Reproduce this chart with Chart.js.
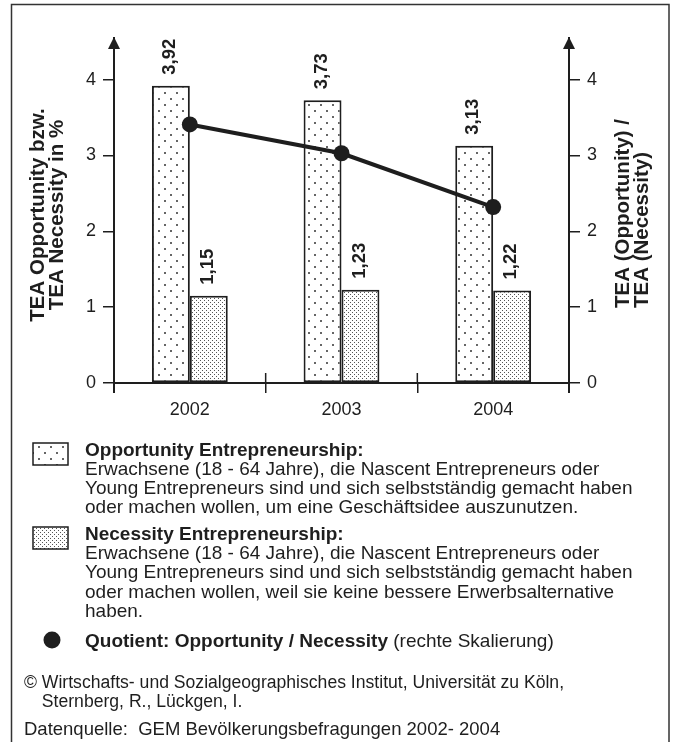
<!DOCTYPE html>
<html>
<head>
<meta charset="utf-8">
<script src="https://cdn.jsdelivr.net/npm/chart.js@4.4.0/dist/chart.umd.min.js"></script>
<style>
  html, body { margin: 0; padding: 0; background: #fff; }
  canvas { display: block; }
</style>
</head>
<body>
<canvas id="chart" width="675" height="742"></canvas>
<script>
// Daten
const years = ['2002', '2003', '2004'];
const opportunity = [3.92, 3.73, 3.13];
const necessity = [1.15, 1.23, 1.22];
const quotient = [3.41, 3.03, 2.32];
const yTicks = [0, 1, 2, 3, 4];

const FONT = "'Liberation Sans', Arial, sans-serif";
const INK = '#1e1e1e';

const leftTitle = ['TEA Opportunity bzw.', 'TEA Necessity in %'];
const rightTitle = ['TEA (Opportunity) /', 'TEA (Necessity)'];

const oppText = [
  'Erwachsene (18 - 64 Jahre), die Nascent Entrepreneurs oder',
  'Young Entrepreneurs sind und sich selbstständig gemacht haben',
  'oder machen wollen, um eine Geschäftsidee auszunutzen.'
];
const necText = [
  'Erwachsene (18 - 64 Jahre), die Nascent Entrepreneurs oder',
  'Young Entrepreneurs sind und sich selbstständig gemacht haben',
  'oder machen wollen, weil sie keine bessere Erwerbsalternative',
  'haben.'
];

const canvas = document.getElementById('chart');
const ctx = canvas.getContext('2d');

// Punktraster für die Balken
function makePattern(size, dots, color, dot) {
  const c = document.createElement('canvas');
  c.width = size;
  c.height = size;
  const g = c.getContext('2d');
  g.fillStyle = '#fff';
  g.fillRect(0, 0, size, size);
  g.fillStyle = color;
  dots.forEach(([px, py]) => g.fillRect(px, py, dot, dot));
  return ctx.createPattern(c, 'repeat');
}
const oppPattern = makePattern(12, [[2, 2], [8, 8]], '#666', 2);
const necPattern = makePattern(4, [[0, 0], [2, 2]], '#555', 1);

const fmt = v => v.toFixed(2).replace('.', ',');

const decor = {
  id: 'decor',
  afterDraw(chart) {
    const { ctx, chartArea: a, scales: { x } } = chart;
    ctx.save();
    ctx.strokeStyle = INK;
    ctx.fillStyle = INK;

    // Rahmen
    ctx.lineWidth = 1.5;
    ctx.strokeStyle = '#333';
    ctx.strokeRect(11.5, 4.5, 657.5, 760);
    ctx.strokeStyle = INK;

    // Pfeile an den Achsen
    [a.left, a.right].forEach(px => {
      ctx.lineWidth = 2;
      ctx.beginPath();
      ctx.moveTo(px, a.top);
      ctx.lineTo(px, a.bottom + 10);
      ctx.stroke();
      ctx.beginPath();
      ctx.moveTo(px, 37);
      ctx.lineTo(px - 6, 49);
      ctx.lineTo(px + 6, 49);
      ctx.closePath();
      ctx.fill();
    });

    // kurze Striche nach oben zwischen den Kategorien
    ctx.lineWidth = 1.5;
    for (let i = 0; i < years.length - 1; i++) {
      const bx = (x.getPixelForValue(i) + x.getPixelForValue(i + 1)) / 2;
      ctx.beginPath();
      ctx.moveTo(bx, a.bottom - 10);
      ctx.lineTo(bx, a.bottom);
      ctx.stroke();
    }

    // Werte über den Balken
    ctx.font = 'bold 18.5px ' + FONT;
    ctx.textAlign = 'left';
    ctx.textBaseline = 'middle';
    chart.data.datasets.forEach((ds, di) => {
      if (ds.type !== 'bar') return;
      chart.getDatasetMeta(di).data.forEach((bar, i) => {
        ctx.save();
        ctx.translate(bar.x - 1, bar.y - 11);
        ctx.rotate(-Math.PI / 2);
        ctx.fillText(fmt(ds.data[i]), 0, 0);
        ctx.restore();
      });
    });

    // Achsentitel
    ctx.font = 'bold 20.5px ' + FONT;
    ctx.save();
    ctx.translate(38, 215);
    ctx.rotate(-Math.PI / 2);
    ctx.textAlign = 'center';
    leftTitle.forEach((t, i) => ctx.fillText(t, 0, i * 19));
    ctx.restore();

    ctx.save();
    ctx.translate(623, 308);
    ctx.rotate(-Math.PI / 2);
    ctx.textAlign = 'left';
    rightTitle.forEach((t, i) => ctx.fillText(t, 0, i * 19));
    ctx.restore();

    // Legende
    ctx.lineWidth = 1.5;
    ctx.fillStyle = oppPattern;
    ctx.fillRect(33, 443, 35, 22);
    ctx.strokeRect(33, 443, 35, 22);
    ctx.fillStyle = necPattern;
    ctx.fillRect(33, 527, 35, 22);
    ctx.strokeRect(33, 527, 35, 22);
    ctx.fillStyle = INK;

    ctx.textBaseline = 'alphabetic';
    const tx = 85;
    ctx.font = 'bold 19px ' + FONT;
    ctx.fillText('Opportunity Entrepreneurship:', tx, 456);
    ctx.font = '19px ' + FONT;
    oppText.forEach((t, i) => ctx.fillText(t, tx, 474.5 + i * 19.2));

    ctx.font = 'bold 19px ' + FONT;
    ctx.fillText('Necessity Entrepreneurship:', tx, 540);
    ctx.font = '19px ' + FONT;
    necText.forEach((t, i) => ctx.fillText(t, tx, 559 + i * 19.3));

    ctx.beginPath();
    ctx.arc(52, 640, 8.5, 0, Math.PI * 2);
    ctx.fill();
    ctx.font = 'bold 19px ' + FONT;
    const q = 'Quotient: Opportunity / Necessity';
    ctx.fillText(q, tx, 647);
    const qw = ctx.measureText(q).width;
    ctx.font = '19px ' + FONT;
    ctx.fillText(' (rechte Skalierung)', tx + qw, 647);

    // Quelle
    ctx.font = '17.6px ' + FONT;
    ctx.fillText('© Wirtschafts- und Sozialgeographisches Institut, Universität zu Köln,', 24, 688);
    const indent = ctx.measureText('© ').width;
    ctx.fillText('Sternberg, R., Lückgen, I.', 24 + indent, 707);
    ctx.font = '18.5px ' + FONT;
    ctx.fillText('Datenquelle:  GEM Bevölkerungsbefragungen 2002- 2004', 24, 734.5);
    ctx.restore();
  }
};

const yAxis = (pos, width) => ({
  position: pos,
  min: 0,
  max: 4.55,
  afterBuildTicks: s => { s.ticks = yTicks.map(v => ({ value: v })); },
  ticks: { padding: 7, color: INK, font: { size: 18, family: FONT } },
  grid: { drawOnChartArea: false, tickLength: 11, color: INK, lineWidth: 1.5 },
  border: { display: true, color: INK, width: 2 },
  afterFit: s => { s.width = width; }
});

new Chart(ctx, {
  type: 'bar',
  data: {
    labels: years,
    datasets: [
      {
        type: 'line',
        label: 'Quotient',
        data: quotient,
        yAxisID: 'y2',
        borderColor: INK,
        borderWidth: 4,
        pointRadius: 8,
        pointBackgroundColor: INK,
        pointBorderWidth: 0,
        tension: 0,
        order: 0
      },
      {
        type: 'bar',
        label: 'Opportunity',
        data: opportunity,
        yAxisID: 'y',
        backgroundColor: oppPattern,
        borderColor: INK,
        borderWidth: 2,
        borderSkipped: false,
        categoryPercentage: 0.5,
        barPercentage: 1,
        order: 1
      },
      {
        type: 'bar',
        label: 'Necessity',
        data: necessity,
        yAxisID: 'y',
        backgroundColor: necPattern,
        borderColor: INK,
        borderWidth: 2,
        borderSkipped: false,
        categoryPercentage: 0.5,
        barPercentage: 1,
        order: 1
      }
    ]
  },
  options: {
    responsive: false,
    animation: false,
    devicePixelRatio: 1,
    layout: { padding: { top: 38, bottom: 319, left: 0, right: 0 } },
    plugins: { legend: { display: false }, tooltip: { enabled: false } },
    scales: {
      x: {
        offset: true,
        grid: { offset: true, drawOnChartArea: false, tickLength: 10, color: INK, lineWidth: 1.5 },
        border: { display: true, color: INK, width: 2 },
        ticks: { padding: 6, color: INK, font: { size: 18, family: FONT } },
        afterFit: s => { s.height = 40; }
      },
      y: yAxis('left', 114),
      y2: yAxis('right', 106)
    }
  },
  plugins: [decor]
});
</script>
</body>
</html>
